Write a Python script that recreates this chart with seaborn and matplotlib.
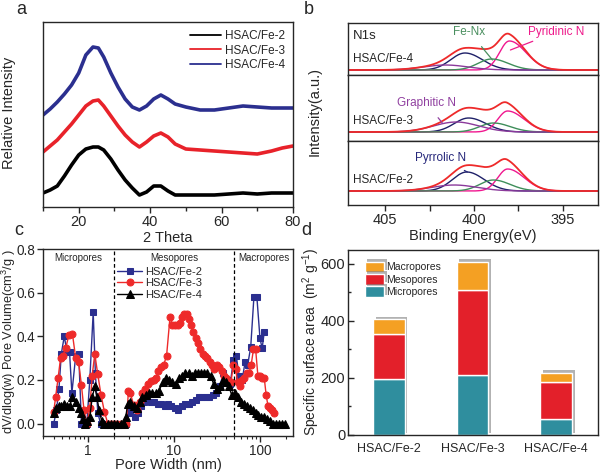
import numpy as np
import pandas as pd
import matplotlib
matplotlib.use('Agg')
import matplotlib.pyplot as plt
import matplotlib.patheffects as pe
from matplotlib.ticker import MultipleLocator, FixedLocator
import seaborn as sns

sns.set_style('ticks')
plt.rcParams['font.family'] = ['Liberation Sans', 'DejaVu Sans']
plt.rcParams['mathtext.fontset'] = 'custom'
plt.rcParams['mathtext.rm'] = 'Liberation Sans'
plt.rcParams['mathtext.it'] = 'Liberation Sans'
plt.rcParams['axes.linewidth'] = 1.0

samples = ['HSAC/Fe-2', 'HSAC/Fe-3', 'HSAC/Fe-4']

#   (a) XRD, relative intensity
xrd_theta = [10, 12, 14, 16, 18, 20, 22, 24, 25.5, 27, 29, 31, 33, 35, 37, 39,
             41, 43, 45, 47, 50, 54, 58, 62, 66, 70, 74, 77, 80]
xrd_fe2 = [14, 17, 21, 31, 42, 52, 58, 60, 60, 57, 48, 37, 27, 19, 12, 15,
           21, 21, 16, 12, 12, 12, 12, 13, 14, 13, 14, 14, 14]
xrd_fe3 = [55, 61, 67, 75, 83, 92, 101, 106, 107, 101, 91, 81, 72, 65, 60, 65,
           71, 74, 70, 63, 58, 57, 56, 55, 54, 53, 56, 59, 61]
xrd_fe4 = [92, 98, 105, 113, 122, 134, 152, 160, 159, 150, 134, 120, 108, 100, 97, 101,
           108, 112, 108, 103, 100, 97, 97, 99, 101, 100, 99, 99, 99]

#   (b) N1s fit components: Pyrrolic N, Pyridinic N, Fe-Nx, Graphitic N
xps_names = ['Pyrrolic N', 'Pyridinic N', 'Fe-Nx', 'Graphitic N']
xps_fwhm_hi = [1.9, 1.3, 1.8, 3.0]
xps_fwhm_lo = [2.3, 2.2, 2.2, 3.0]
fe2_center = [400.4, 398.1, 398.9, 401.1]
fe2_height = [19, 22, 11, 6]
fe3_center = [400.3, 398.1, 398.9, 401.0]
fe3_height = [14, 21, 9, 10]
fe4_center = [400.5, 398.0, 399.0, 401.6]
fe4_height = [17, 29, 11, 5]

#   (c) pore size distribution
pw_fe2 = [0.40, 0.43, 0.46, 0.49, 0.53, 0.57, 0.61, 0.65, 0.72, 0.78, 0.84, 0.90, 0.97,
          1.05, 1.15, 1.22, 1.30, 1.40, 1.50, 1.65, 1.80, 2.0, 2.2, 2.4, 2.6, 2.8, 3.0,
          3.2, 3.5, 3.8, 4.1, 4.5, 4.9, 5.4, 5.9, 6.5, 7.1, 7.8, 8.5, 9.3, 10.2, 11.2,
          12.3, 13.5, 14.8, 16.2, 17.8, 19.5, 21.4, 23.5, 25.8, 28.3, 31, 34, 37.5, 41,
          45, 49, 53, 57, 62, 67, 72, 78, 85, 92, 100, 106, 112]
pv_fe2 = [0.00, 0.06, 0.16, 0.32, 0.40, 0.33, 0.33, 0.14, 0.31, 0.32, 0.00, 0.00, 0.00,
          0.20, 0.51, 0.23, 0.05, 0.00, 0.00, 0.00, 0.00, 0.00, 0.00, 0.00, 0.00, 0.00, 0.05,
          0.08, 0.03, 0.05, 0.08, 0.10, 0.11, 0.10, 0.10, 0.09, 0.09, 0.08, 0.09, 0.08, 0.07, 0.06,
          0.08, 0.09, 0.09, 0.10, 0.11, 0.12, 0.12, 0.12, 0.12, 0.13, 0.14, 0.17, 0.23, 0.20,
          0.18, 0.29, 0.31, 0.22, 0.20, 0.28, 0.27, 0.35, 0.58, 0.58, 0.39, 0.345, 0.42]
pw_fe3 = [0.40, 0.42, 0.45, 0.48, 0.51, 0.55, 0.60, 0.66, 0.72, 0.78, 0.84, 0.90, 0.97,
          1.05, 1.12, 1.20, 1.30, 1.42, 1.55, 1.70, 1.85, 2.0, 2.2, 2.4, 2.6, 2.8, 2.95,
          3.1, 3.4, 3.7, 4.0, 4.3, 4.6, 5.0, 5.4, 5.8, 6.2, 6.6, 7.1, 7.6, 8.2, 9.0, 9.6,
          10.3, 11.0, 11.7, 12.4, 13.2, 14.0, 14.9, 15.8, 16.8, 17.9, 19.0, 20.2, 21.5,
          22.9, 24.4, 26.0, 27.7, 29.5, 31.4, 33.5, 35.7, 38, 40.5, 43, 46, 49, 52, 55,
          58.5, 62, 66, 70, 74.5, 79, 84, 89, 94.5, 100, 106, 112, 118, 124, 131, 139, 147]
pv_fe3 = [0.055, 0.12, 0.21, 0.30, 0.31, 0.345, 0.405, 0.41, 0.30, 0.28, 0.175, 0.06, 0.00,
          0.07, 0.22, 0.32, 0.225, 0.13, 0.055, 0.00, 0.00, 0.00, 0.00, 0.00, 0.00, 0.00, 0.147,
          0.14, 0.085, 0.063, 0.10, 0.14, 0.16, 0.18, 0.195, 0.20, 0.21, 0.24, 0.26, 0.27, 0.31, 0.49, 0.45,
          0.45, 0.45, 0.46, 0.49, 0.50, 0.50, 0.48, 0.45, 0.42, 0.39, 0.37, 0.34, 0.32,
          0.31, 0.30, 0.28, 0.27, 0.25, 0.27, 0.26, 0.24, 0.22, 0.21, 0.19, 0.19, 0.27, 0.25, 0.19,
          0.17, 0.20, 0.21, 0.23, 0.23, 0.27, 0.34, 0.34, 0.22, 0.22, 0.21, 0.21, 0.13, 0.08, 0.07, 0.06, 0.05]
pw_fe4 = [0.40, 0.43, 0.46, 0.49, 0.53, 0.57, 0.61, 0.66, 0.72, 0.78, 0.84, 0.88, 0.93,
          0.98, 1.05, 1.12, 1.20, 1.27, 1.35, 1.45, 1.55, 1.70, 1.85, 2.0, 2.2, 2.4, 2.6,
          2.75, 2.9, 3.1, 3.4, 3.7, 4.0, 4.3, 4.7, 5.1, 5.6, 6.1, 6.7, 7.4, 8.1, 8.8, 9.6,
          10.5, 11.5, 12.5, 13.6, 14.8, 16.1, 17.5, 19, 20.7, 22.5, 24.5, 26.6, 29, 31.5,
          34, 37, 40, 43.5, 47, 51, 55, 60, 65, 70, 76, 82, 89, 96, 104, 112, 121, 130,
          140, 152, 165, 180, 195]
pv_fe4 = [0.05, 0.07, 0.08, 0.08, 0.09, 0.08, 0.08, 0.12, 0.10, 0.07, 0.05, 0.02, 0.00,
          0.01, 0.03, 0.12, 0.17, 0.12, 0.06, 0.01, 0.00, 0.00, 0.00, 0.00, 0.00, 0.00, 0.00,
          0.03, 0.09, 0.10, 0.08, 0.07, 0.10, 0.12, 0.13, 0.14, 0.14, 0.14, 0.15, 0.19, 0.21, 0.20, 0.19,
          0.18, 0.21, 0.22, 0.23, 0.23, 0.22, 0.23, 0.23, 0.23, 0.23, 0.23, 0.22, 0.18, 0.16,
          0.17, 0.20, 0.19, 0.17, 0.13, 0.14, 0.12, 0.10, 0.09, 0.08, 0.07, 0.06, 0.05, 0.04, 0.03, 0.03, 0.02, 0.01,
          0.00, 0.00, 0.00, 0.00, 0.00]

#   (d) specific surface area (m2/g)
area_micro = [195, 209, 55]
area_meso = [158, 298, 132]
area_macro = [52, 99, 31]

W, H = 600, 472


def box(left, top, right, bottom):
    # pixel box -> figure fraction
    return [left / W, 1 - bottom / H, (right - left) / W, (bottom - top) / H]


fig = plt.figure(figsize=(6, 4.72), dpi=100)

# ---------------- a ----------------
ax_a = fig.add_axes(box(43, 22, 293, 207))
xrd_colors = ['black', '#E8222A', '#2B2F8F']
for lab, yy, col in zip(samples, [xrd_fe2, xrd_fe3, xrd_fe4], xrd_colors):
    sns.lineplot(x=xrd_theta, y=yy, ax=ax_a, color=col, lw=2.6, label=lab)
ax_a.set_xlim(10, 80)
ax_a.set_ylim(0, 185)
ax_a.set_yticks([])
ax_a.xaxis.set_major_locator(MultipleLocator(20))
ax_a.xaxis.set_minor_locator(MultipleLocator(10))
ax_a.tick_params(axis='x', labelsize=10.5, length=4, width=1, pad=2)
ax_a.tick_params(axis='x', which='minor', length=3, width=1)
ax_a.set_xlabel('2 Theta', fontsize=10.5, labelpad=1)
ax_a.set_ylabel('')
leg_a = ax_a.legend(loc='upper right', frameon=False, fontsize=8.5, handlelength=2.6,
                    handletextpad=0.3, labelspacing=0.2, borderaxespad=0.3)
for l in leg_a.get_lines():
    l.set_linewidth(1.3)
fig.text(9 / W, 1 - 113 / H, 'Relative Intensity', rotation=90, ha='center',
         va='center', fontsize=10.5)

# ---------------- b ----------------
be = np.linspace(407.1, 393.0, 500)
comp_colors = ['#1E2068', '#F0178F', '#3E8E5A', '#8B3A9B']
env_color = '#EE2A2A'


def component(c, h, w_hi, w_lo):
    w = np.where(be >= c, w_hi, w_lo)
    return h * np.exp(-4 * np.log(2) * ((be - c) / w) ** 2)


b_rows = [('HSAC/Fe-4', fe4_center, fe4_height, 23, 75, 70),
          ('HSAC/Fe-3', fe3_center, fe3_height, 75, 141, 132),
          ('HSAC/Fe-2', fe2_center, fe2_height, 141, 205, 191)]
b_axes = []
for name, cen, hei, top, bot, base in b_rows:
    ax = fig.add_axes(box(348, top, 598, bot))
    total = np.zeros_like(be)
    for k in range(4):
        comp = component(cen[k], hei[k], xps_fwhm_hi[k], xps_fwhm_lo[k])
        total += comp
        sns.lineplot(x=be, y=comp, ax=ax, color=comp_colors[k], lw=1.0, sort=False)
    sns.lineplot(x=be, y=total, ax=ax, color=env_color, lw=1.3, sort=False)
    ax.set_xlim(407.1, 393.0)
    ax.set_ylim(-(bot - base), base - top)
    ax.set_yticks([])
    ax.text(406.8, 11, name, fontsize=8.5, va='center', ha='left')
    b_axes.append(ax)

b4, b3, b2 = b_axes
for ax in (b4, b3):
    ax.set_xticks([])
b2.xaxis.set_major_locator(FixedLocator([405, 400, 395]))
b2.xaxis.set_minor_locator(FixedLocator([402.5, 397.5]))
b2.tick_params(axis='x', labelsize=10.5, length=4, width=1, pad=2)
b2.tick_params(axis='x', which='minor', length=4, width=1)
b2.set_xlabel('Binding Energy(eV)', fontsize=10.5, labelpad=1)

b4.text(406.8, 34, 'N1s', fontsize=9.5, va='center', ha='left')
b4.annotate('Fe-Nx', xy=(398.95, 10), xytext=(400.25, 38), color='#4A8F5F',
            fontsize=8.5, ha='center', va='center',
            arrowprops=dict(arrowstyle='-', color='#4A8F5F', lw=0.9, shrinkA=5, shrinkB=0))
b4.annotate('Pyridinic N', xy=(397.94, 20), xytext=(395.34, 38), color='#EE1A8A',
            fontsize=8.5, ha='center', va='center',
            arrowprops=dict(arrowstyle='-', color='#EE1A8A', lw=0.9, shrinkA=18, shrinkB=0))
b3.annotate('Graphitic N', xy=(401.78, 9), xytext=(402.68, 29), color='#9040A0',
            fontsize=8.5, ha='center', va='center',
            arrowprops=dict(arrowstyle='-', color='#9040A0', lw=0.9, shrinkA=5, shrinkB=0))
b2.annotate('Pyrrolic N', xy=(400.37, 19), xytext=(401.9, 33), color='#26277A',
            fontsize=8.5, ha='center', va='center',
            arrowprops=dict(arrowstyle='-', color='#26277A', lw=0.9, shrinkA=5, shrinkB=0))
fig.text(315 / W, 1 - 112 / H, 'Intensity(a.u.)', rotation=90, ha='center',
         va='center', fontsize=10.5)

# ---------------- c ----------------
ax_c = fig.add_axes(box(43, 249, 293, 436))
c_sets = [(pw_fe2, pv_fe2, '#2B2F8F', 's', 4.2),
          (pw_fe3, pv_fe3, '#EE2A2A', 'o', 5.0),
          (pw_fe4, pv_fe4, 'black', '^', 5.2)]
for lab, (xx, yy, col, mk, ms) in zip(samples, c_sets):
    sns.lineplot(x=xx, y=yy, ax=ax_c, color=col, marker=mk, markersize=ms,
                 markeredgecolor=col, lw=1.0, label=lab)
ax_c.set_xscale('log')
ax_c.set_xlim(0.30, 242)
ax_c.set_ylim(-0.057, 0.80)
ax_c.set_yticks([0.0, 0.2, 0.4, 0.6, 0.8])
ax_c.set_yticklabels(['0.0', '0.2', '0.4', '0.6', '0.8'])
ax_c.set_xticks([1, 10, 100])
ax_c.set_xticklabels(['1', '10', '100'])
ax_c.tick_params(axis='both', labelsize=9.8, length=4, width=1, pad=1.5)
ax_c.tick_params(axis='x', which='minor', length=2.5, width=0.8)
ax_c.axvline(2, color='black', ls='--', lw=0.9, dashes=(3, 2))
ax_c.axvline(50, color='black', ls='--', lw=0.9, dashes=(3, 2))
ax_c.text(0.77, 0.76, 'Micropores', fontsize=7, ha='center', va='center')
ax_c.text(10, 0.76, 'Mesopores', fontsize=7, ha='center', va='center')
ax_c.text(112, 0.76, 'Macropores', fontsize=7, ha='center', va='center')
ax_c.set_xlabel('Pore Width (nm)', fontsize=10.5, labelpad=0)
ax_c.set_ylabel('')
ax_c.legend(loc='upper left', bbox_to_anchor=(0.28, 0.93), frameon=False, fontsize=8,
            handlelength=2.2, handletextpad=0.3, labelspacing=0.15, borderaxespad=0)
fig.text(9 / W, 1 - 342 / H, 'dV/dlog(w) Pore Volume(cm$^3$/g )', rotation=90,
         ha='center', va='center', fontsize=9.2)

# ---------------- d ----------------
ax_d = fig.add_axes(box(348, 250, 598, 435))
pos = np.arange(len(samples))
shadow = [pe.SimplePatchShadow(offset=(1.8, 1.8), shadow_rgbFace='0.45', alpha=0.55), pe.Normal()]
bottom = np.zeros(3)
d_layers = [('Micropores', area_micro, '#2F8E9E'),
            ('Mesopores', area_meso, '#E3202A'),
            ('Macropores', area_macro, '#F4A023')]
handles = []
for lab, vals, col in d_layers:
    bars = ax_d.bar(pos, vals, width=0.38, bottom=bottom, color=col, edgecolor='white',
                    lw=1.0, label=lab)
    for p in bars:
        p.set_path_effects(shadow)
    bottom = bottom + np.array(vals)
    handles.append(bars)
ax_d.set_xlim(-0.49, 2.5)
ax_d.set_ylim(0, 648)
ax_d.set_xticks(pos)
ax_d.set_xticklabels(samples, fontsize=9)
ax_d.tick_params(axis='x', length=0, pad=6)
ax_d.yaxis.set_major_locator(MultipleLocator(200))
ax_d.yaxis.set_minor_locator(MultipleLocator(100))
ax_d.tick_params(axis='y', direction='in', labelsize=10.5, length=4, width=1, pad=2)
ax_d.tick_params(axis='y', which='minor', direction='in', length=2.5, width=1)
ax_d.legend(handles[::-1], [l[0] for l in d_layers][::-1], loc='upper left',
            bbox_to_anchor=(0.05, 0.96), frameon=False, fontsize=7.5, handlelength=1.9,
            handleheight=1.2, handletextpad=0.2, labelspacing=0.15, borderaxespad=0)
fig.text(311 / W, 1 - 342 / H, 'Specific surface area  (m$^2$ g$^{-1}$)', rotation=90,
         ha='center', va='center', fontsize=10)

# panel letters
for ch, px, py in [('a', 21, 10), ('b', 309, 9), ('c', 19, 231), ('d', 306, 231)]:
    fig.text(px / W, 1 - py / H, ch, fontsize=13, ha='center', va='center')

fig.savefig('out.png', dpi=100)
